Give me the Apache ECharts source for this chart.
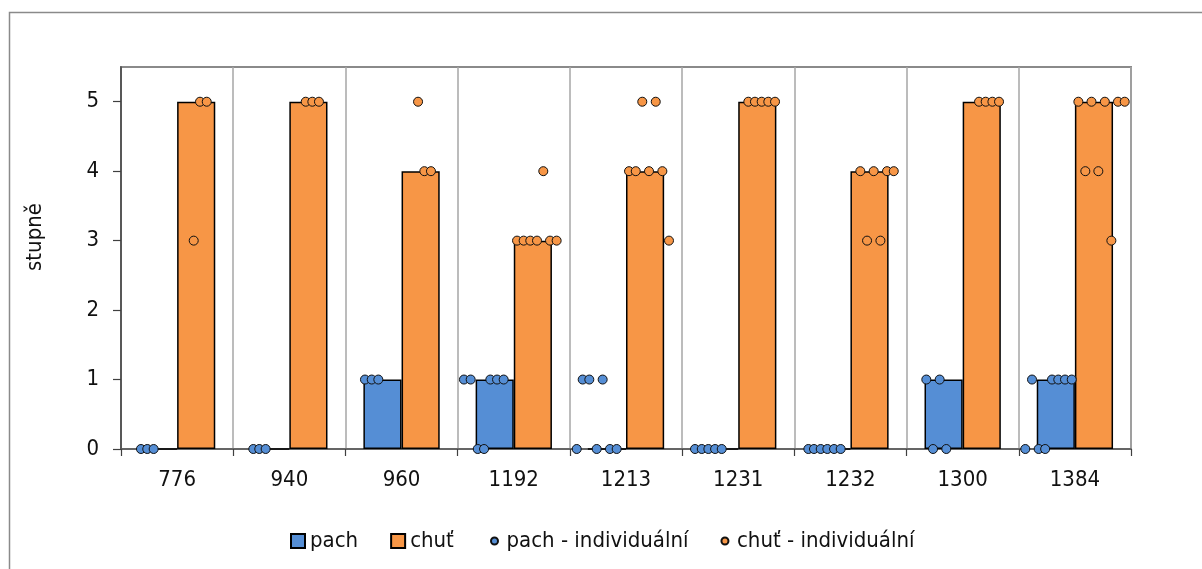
<!DOCTYPE html>
<html>
<head>
<meta charset="utf-8">
<script src="https://cdn.jsdelivr.net/npm/echarts@6/dist/echarts.min.js"></script>
<style>
html,body{margin:0;padding:0;background:#fff;}
#chart{width:1202px;height:569px;}
</style>
</head>
<body>
<div id="chart"></div>
<script>
const categories = ['776', '940', '960', '1192', '1213', '1231', '1232', '1300', '1384'];
const pachValues = [0, 0, 1, 1, 0, 0, 0, 1, 1];
const chutValues = [5, 5, 4, 3, 4, 5, 4, 5, 5];
const yTicks = [0, 1, 2, 3, 4, 5];
const yMax = 5.5;
// individual ratings: [position along category axis (category index + jitter), rating]
const pachDots = [
  [0.178, 0], [0.234, 0], [0.291, 0],
  [1.179, 0], [1.232, 0], [1.289, 0],
  [2.174, 1], [2.234, 1], [2.293, 1],
  [3.056, 1], [3.116, 1], [3.179, 0], [3.235, 0], [3.291, 1], [3.351, 1], [3.410, 1],
  [4.061, 0], [4.114, 1], [4.173, 1], [4.239, 0], [4.292, 1], [4.357, 0], [4.417, 0],
  [5.115, 0], [5.175, 0], [5.234, 0], [5.294, 0], [5.353, 0],
  [6.125, 0], [6.175, 0], [6.235, 0], [6.294, 0], [6.354, 0], [6.413, 0],
  [7.176, 1], [7.236, 0], [7.295, 1], [7.354, 0],
  [8.058, 0], [8.118, 1], [8.177, 0], [8.235, 0], [8.296, 1], [8.352, 1], [8.412, 1], [8.472, 1]
];
const chutDots = [
  [0.648, 3], [0.704, 5], [0.764, 5],
  [1.646, 5], [1.705, 5], [1.764, 5],
  [2.647, 5], [2.703, 4], [2.762, 4],
  [3.529, 3], [3.588, 3], [3.647, 3], [3.707, 3], [3.763, 4], [3.823, 3], [3.882, 3],
  [4.527, 4], [4.587, 4], [4.645, 5], [4.705, 4], [4.765, 5], [4.824, 4], [4.883, 3],
  [5.590, 5], [5.649, 5], [5.709, 5], [5.768, 5], [5.828, 5],
  [6.588, 4], [6.648, 3], [6.707, 4], [6.767, 3], [6.826, 4], [6.886, 4],
  [7.646, 5], [7.705, 5], [7.765, 5], [7.824, 5],
  [8.531, 5], [8.593, 4], [8.648, 5], [8.709, 4], [8.767, 5], [8.825, 3], [8.884, 5], [8.944, 5]
];

const FONT = "'DejaVu Sans Condensed', 'Liberation Sans', sans-serif";
const TXT = '#111';
const BLUE = '#558ED5';
const ORANGE = '#F79646';

const chart = echarts.init(document.getElementById('chart'), null, {renderer: 'canvas'});
chart.setOption({
  backgroundColor: '#fff',
  animation: false,
  textStyle: {fontFamily: FONT, color: TXT},
  grid: {left: 121, right: 71, top: 67, bottom: 120, show: true, borderColor: '#8a8a8a', borderWidth: 2, backgroundColor: 'transparent'},
  graphic: [
    {type: 'rect', shape: {x: 9.5, y: 12.5, width: 1300, height: 700}, style: {fill: null, stroke: '#8a8a8a', lineWidth: 1.5}, silent: true, z: 0},
    {type: 'text', x: 35, y: 237, rotation: Math.PI / 2, style: {text: 'stupně', font: '22px ' + FONT, fill: TXT, align: 'center', verticalAlign: 'middle'}, z: 10}
  ],
  legend: [
    {
      data: [{name: 'pach', icon: 'rect'}, {name: 'chuť', icon: 'rect'}],
      left: 290, top: 529, padding: 0, itemWidth: 14, itemHeight: 14, itemGap: 32,
      textStyle: {fontFamily: FONT, fontSize: 22, color: TXT, lineHeight: 24}
    },
    {
      data: [{name: 'pach - individuální', icon: 'circle'}, {name: 'chuť - individuální', icon: 'circle'}],
      left: 490, top: 529, padding: 0, itemWidth: 14, itemHeight: 7, itemGap: 32,
      textStyle: {fontFamily: FONT, fontSize: 22, color: TXT, lineHeight: 24}
    }
  ],
  xAxis: [
    {
      type: 'category', data: categories, boundaryGap: true,
      axisLine: {show: true, lineStyle: {color: '#595959', width: 1.5}},
      axisTick: {show: true, length: 7, inside: false, lineStyle: {color: '#404040', width: 1.2}},
      axisLabel: {fontSize: 22, color: TXT, margin: 20, fontFamily: FONT},
      splitLine: {show: true, interval: 0, lineStyle: {color: '#a6a6a6', width: 1.5}}
    },
    {type: 'value', min: 0, max: 9, show: false}
  ],
  yAxis: {
    type: 'value', min: 0, max: yMax, interval: 1,
    axisLine: {show: true, lineStyle: {color: '#404040', width: 1.5}},
    axisTick: {show: true, length: 8, customValues: yTicks, lineStyle: {color: '#404040', width: 1.2}},
    axisLabel: {fontSize: 22, color: TXT, margin: 22, fontFamily: FONT, customValues: yTicks},
    splitLine: {show: false}
  },
  series: [
    {
      name: 'pach', type: 'bar', data: pachValues, xAxisIndex: 0,
      barGap: '0%', barCategoryGap: '32%',
      itemStyle: {color: BLUE, borderColor: '#000', borderWidth: 1.5},
      z: 2
    },
    {
      name: 'chuť', type: 'bar', data: chutValues, xAxisIndex: 0,
      barGap: '0%', barCategoryGap: '32%',
      itemStyle: {color: ORANGE, borderColor: '#000', borderWidth: 1.5},
      z: 2
    },
    {
      name: 'pach - individuální', type: 'scatter', data: pachDots, xAxisIndex: 1,
      symbol: 'circle', symbolSize: 9,
      itemStyle: {color: BLUE, borderColor: '#111', borderWidth: 1, opacity: 1},
      z: 5
    },
    {
      name: 'chuť - individuální', type: 'scatter', data: chutDots, xAxisIndex: 1,
      symbol: 'circle', symbolSize: 9,
      itemStyle: {color: ORANGE, borderColor: '#111', borderWidth: 1, opacity: 1},
      z: 5
    }
  ]
});
</script>
</body>
</html>
